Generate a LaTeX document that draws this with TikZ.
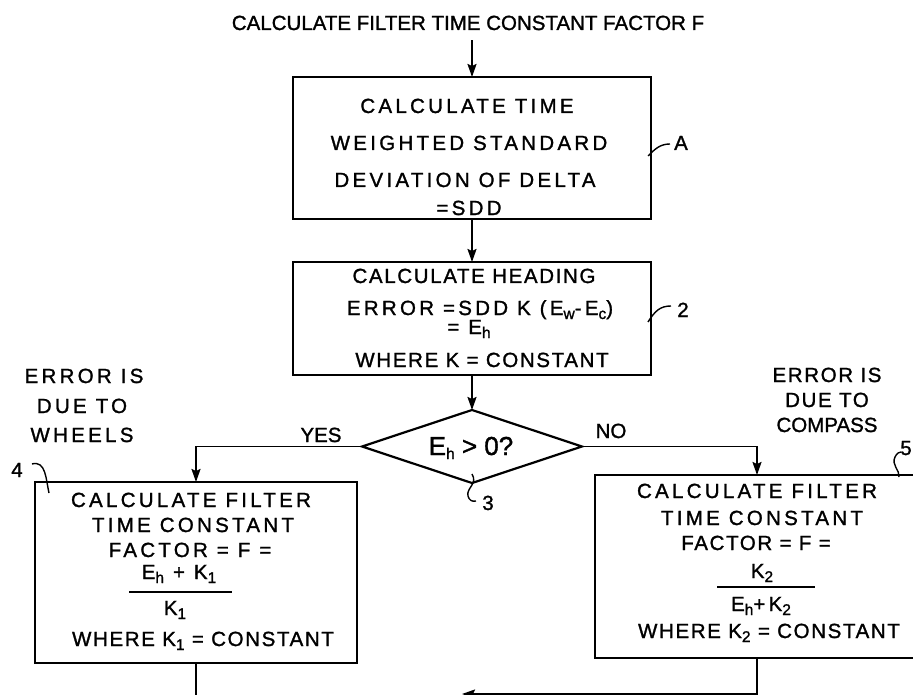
\documentclass[tikz,border=0pt]{standalone}
\usepackage{fontspec}
\setmainfont{Liberation Sans}
\newfontfamily\plainlet[FakeBold=1.3]{Liberation Sans}
\newfontfamily\midlet[LetterSpace=8,FakeBold=1.3]{Liberation Sans}
\newfontfamily\widelet[LetterSpace=16,FakeBold=1.3]{Liberation Sans}
\usetikzlibrary{arrows.meta,shapes.geometric}
% lowered, slightly reduced index letters as in the hand lettering
\newcommand\lowsub[1]{\raisebox{-4pt}{\fontsize{15.5}{16}\selectfont #1}}

\begin{document}
\begin{tikzpicture}[x=1pt,y=-1pt,
  every node/.style={inner sep=0pt,outer sep=0pt},
  boxstyle/.style={draw,rectangle,line width=2pt},
  decision/.style={draw,diamond,line width=2.2pt},
  txt/.style={anchor=base,font={\fontsize{20.5}{24}\selectfont\widelet}},
  txtmid/.style={anchor=base,font={\fontsize{20.5}{24}\selectfont\midlet}},
  txtplain/.style={anchor=base,font={\fontsize{20.5}{24}\selectfont\plainlet}},
  flow/.style={line width=1.8pt,-{Stealth[length=13pt,width=9pt,inset=2pt]}},
  plainline/.style={line width=1.8pt},
  leader/.style={line width=1.4pt},
  fracbar/.style={line width=1.6pt}
]
\useasboundingbox (0,0) rectangle (913,695);

% title
\node[txtplain] (title) at (468,30) {CALCULATE FILTER TIME CONSTANT FACTOR F};

% block A: standard deviation of delta
\node[boxstyle,minimum width=358pt,minimum height=142pt] (boxA) at (472,148) {};
\node[txt] (a1) at (467,113) {CALCULATE TIME};
\node[txt] (a2) at (469,150) {WEIGHTED STANDARD};
\node[txt] (a3) at (465,187) {DEVIATION OF DELTA};
\node[txt] (a4) at (469,215) {=SDD};

% block 2: heading error
\node[boxstyle,minimum width=358pt,minimum height=113pt] (box2) at (472,318.5) {};
\node[txtmid] (b1) at (474,283) {CALCULATE HEADING};
\node[txt] (b2) at (480,315) {ERROR =SDD K (E\lowsub{w}-E\lowsub{c})};
\node[txt] (b3) at (469,334) {= E\lowsub{h}};
\node[txtmid] (b4) at (482,367) {WHERE K = CONSTANT};

% decision 3
\node[decision,minimum width=220pt,minimum height=73pt] (dia) at (472,446.5) {};
\node[anchor=base,font={\fontsize{26}{30}\selectfont\plainlet}] (dq) at (471,455) {E\lowsub{h} > 0?};

% block 4: error due to wheels
\node[boxstyle,minimum width=322pt,minimum height=181pt] (box4) at (196,572.5) {};
\node[txt] (c1) at (191,507) {CALCULATE FILTER};
\node[txt] (c2) at (193,532) {TIME CONSTANT};
\node[txt] (c3) at (190,557) {FACTOR = F =};
\node[txt] (c4) at (179,579) {E\lowsub{h} + K\lowsub{1}};
\draw[fracbar] (129,592) -- (232,592);
\node[txt] (c5) at (175,615) {K\lowsub{1}};
\node[txtmid] (c6) at (203,646) {WHERE K\lowsub{1} = CONSTANT};

% block 5: error due to compass
\node[boxstyle,minimum width=324pt,minimum height=183pt] (box5) at (757,566.5) {};
\node[txt] (d1) at (757,498) {CALCULATE FILTER};
\node[txt] (d2) at (762,525) {TIME CONSTANT};
\node[txtmid] (d3) at (756,550) {FACTOR = F =};
\node[txt] (d4) at (762,578) {K\lowsub{2}};
\draw[fracbar] (717,587) -- (815,587);
\node[txt] (d5) at (761,611) {E\lowsub{h}+K\lowsub{2}};
\node[txtmid] (d6) at (769,638) {WHERE K\lowsub{2} = CONSTANT};

% side notes
\node[txt] (wl1) at (84,383) {ERROR IS};
\node[txt] (wl2) at (82,413) {DUE TO};
\node[txt] (wl3) at (82,442) {WHEELS};
\node[txtmid] (cr1) at (827,382) {ERROR IS};
\node[txtmid] (cr2) at (827,407) {DUE TO};
\node[txtplain] (cr3) at (827,432) {COMPASS};

% branch labels
\node[txtplain] (yes) at (321,442) {YES};
\node[txtplain] (no) at (611,438) {NO};

% reference numerals
\node[txtplain] (refA) at (681,150) {A};
\node[txtplain] (ref2) at (683,317) {2};
\node[txtplain] (ref3) at (488,510) {3};
\node[txtplain] (ref4) at (17,477) {4};
\node[txtplain] (ref5) at (906,455) {5};
\draw[leader] (648,156) .. controls (655,149) and (660,144) .. (670,144);
\draw[leader] (648,322) .. controls (655,311) and (660,306) .. (671,306);
\draw[leader] (472,474) .. controls (478,484) and (466,488) .. (468,496)
              .. controls (469,500) and (472,502) .. (476,501);
\draw[leader] (32,464) .. controls (46,460) and (46,480) .. (49,493);
\draw[leader] (899,477) .. controls (900,470) and (891,465) .. (895,457)
              .. controls (897,453) and (899,452) .. (901,452);

% connectors
\coordinate (lowL) at (196,720);
\coordinate (join) at (462,694);
\draw[flow,shorten <=10pt] (title.south -| boxA.north) -- (boxA.north);
\draw[flow] (boxA.south) -- (box2.north);
\draw[flow] (box2.south) -- (dia.north);
\draw[flow] (dia.west) -| (box4.north);
\draw[flow] (dia.east) -| (box5.north);
\draw[plainline] (box4.south) -- (lowL);
\draw[flow] (box5.south) |- (join);
\end{tikzpicture}
\end{document}
